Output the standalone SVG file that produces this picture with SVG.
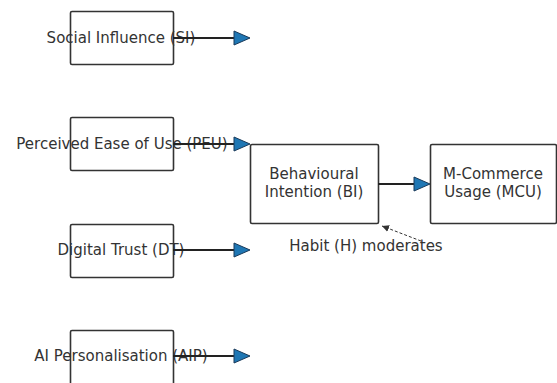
<svg xmlns="http://www.w3.org/2000/svg" width="557" height="383" viewBox="0 0 557 383">
<defs>
<style>
.box{fill:#fff;stroke:#333;stroke-width:1.6}
.t{font-family:"DejaVu Sans",sans-serif;font-size:15px;fill:#333;text-anchor:middle}
.ln{stroke:#222;stroke-width:2;fill:none}
.hd{fill:#1f77b4;stroke:#1a3a5a;stroke-width:1}
.dash{stroke:#333;stroke-width:1;stroke-dasharray:3,2;fill:none}
</style>
<marker id="sm" markerWidth="8" markerHeight="8" refX="7" refY="4" orient="auto" markerUnits="userSpaceOnUse">
<path d="M0,0.5 L7,4 L0,7.5 Z" fill="#333"/>
</marker>
</defs>
<rect width="557" height="383" fill="#fff"/>
<g id="SI"><rect class="box" x="70.5" y="11.5" width="103" height="53" rx="1.5"/><text class="t" x="121" y="43">Social Influence (SI)</text></g>
<g id="PEU"><rect class="box" x="70.5" y="117.5" width="103" height="53" rx="1.5"/><text class="t" x="122" y="149">Perceived Ease of Use (PEU)</text></g>
<g id="DT"><rect class="box" x="70.5" y="224.5" width="103" height="53" rx="1.5"/><text class="t" x="121" y="255">Digital Trust (DT)</text></g>
<g id="AIP"><rect class="box" x="70.5" y="330.5" width="103" height="55" rx="1.5"/><text class="t" x="121" y="361">AI Personalisation (AIP)</text></g>
<g id="BI"><rect class="box" x="250.5" y="144.5" width="128" height="79" rx="1.5"/><text class="t" x="314" y="179">Behavioural</text><text class="t" x="314" y="197">Intention (BI)</text></g>
<g id="MCU"><rect class="box" x="430.5" y="144.5" width="126" height="79" rx="1.5"/><text class="t" x="493" y="179">M-Commerce</text><text class="t" x="493" y="197">Usage (MCU)</text></g>
<g id="connectors">
<line class="ln" x1="173" y1="38" x2="236" y2="38"/><path class="hd" d="M234,31 L250,38 L234,45 Z"/>
<line class="ln" x1="173" y1="144" x2="236" y2="144"/><path class="hd" d="M234,137 L250,144 L234,151 Z"/>
<line class="ln" x1="173" y1="250" x2="236" y2="250"/><path class="hd" d="M234,243 L250,250 L234,257 Z"/>
<line class="ln" x1="173" y1="356" x2="236" y2="356"/><path class="hd" d="M234,349 L250,356 L234,363 Z"/>
<line class="ln" x1="378" y1="184" x2="416" y2="184"/><path class="hd" d="M414,177 L430,184 L414,191 Z"/>
<line class="dash" x1="421" y1="241" x2="382" y2="226" marker-end="url(#sm)"/>
</g>
<text class="t" x="366" y="251">Habit (H) moderates</text>
</svg>
